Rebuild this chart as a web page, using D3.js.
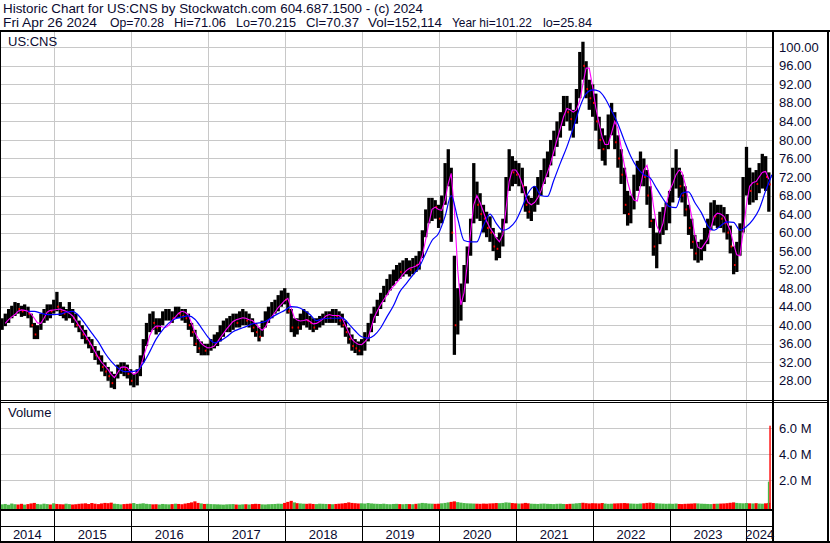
<!DOCTYPE html>
<html><head><meta charset="utf-8">
<script src="https://cdn.jsdelivr.net/npm/d3@7"></script>
<style>html,body{margin:0;padding:0;background:#fff;}svg{display:block;font-family:"Liberation Sans",Arial,sans-serif;}</style>
</head><body><svg id="c" width="830" height="543"></svg>
<script>
// ---- data (semi-monthly periods starting 2014-05-01) ----
const priceLow = [
 39.0,39.8,40.5,41.5,42.0,42.5,41.8,42.0,41.5,39.5,37.0,37.0,39.0,40.5,41.0,41.5,
 42.5,43.0,42.0,41.5,41.0,41.5,40.5,39.5,38.5,37.0,36.0,35.0,34.0,32.5,31.5,30.0,29.0,28.0,26.5,26.2,28.5,29.5,29.0,28.5,
 27.0,26.6,27.0,29.0,32.0,35.5,38.5,39.0,38.0,38.5,40.0,41.0,41.0,40.5,41.5,41.5,41.0,40.5,39.0,37.5,35.5,34.0,33.5,33.5,
 33.5,34.5,35.0,35.5,36.5,37.5,38.5,38.5,39.0,39.5,39.5,40.0,40.0,39.5,38.5,37.5,36.5,37.5,39.5,40.5,41.5,42.5,43.0,44.0,
 44.5,42.5,38.5,37.5,38.0,39.0,40.0,39.5,39.0,38.5,39.0,39.5,40.0,40.5,40.5,40.5,40.5,40.0,39.5,37.5,36.0,34.5,34.0,33.5,
 33.5,34.5,36.5,38.5,40.5,42.0,43.5,45.0,46.5,47.5,48.5,49.5,50.0,50.5,51.0,50.5,51.0,51.5,52.0,54.5,59.0,62.0,62.5,63.0,
 61.0,62.0,66.0,70.0,58.0,33.6,38.0,41.0,45.0,49.0,55.0,62.0,63.0,62.5,60.0,59.0,58.0,56.0,54.0,54.5,57.0,62.0,69.0,70.0,
 70.5,70.0,68.5,64.5,63.0,62.5,64.5,66.0,68.0,70.5,72.0,74.5,76.5,78.5,80.5,83.0,84.0,82.0,80.5,83.5,89.0,93.0,89.0,86.5,
 85.0,82.0,78.0,75.5,74.5,78.0,81.0,78.0,74.0,70.5,64.0,61.5,62.0,65.0,69.0,70.0,70.0,66.0,61.0,55.0,52.3,57.5,59.5,60.5,
 62.0,66.5,69.5,67.5,66.5,63.5,59.5,56.5,54.0,53.5,54.0,56.0,57.5,60.5,61.5,61.0,61.0,60.0,58.5,55.5,51.0,51.5,55.0,60.0,
 68.0,66.0,66.5,67.0,68.5,69.5,69.0,64.5];
const priceHigh = [
 41.5,42.5,43.5,44.2,45.0,44.8,44.2,44.5,44.0,42.5,40.5,40.0,42.5,43.5,44.5,44.5,
 45.5,47.2,45.0,44.0,43.5,45.0,43.5,42.5,41.0,40.0,39.0,37.5,37.0,35.5,34.5,33.5,32.0,31.0,30.0,29.5,31.5,32.0,32.0,31.5,
 30.5,29.5,30.5,33.5,37.0,40.5,42.5,43.0,41.5,41.5,43.0,43.5,43.5,43.0,44.0,44.0,43.5,43.5,42.5,40.5,39.0,37.0,36.5,36.0,
 36.0,37.0,38.0,38.5,40.0,41.0,41.5,42.0,42.5,42.5,43.0,43.5,43.0,42.5,41.5,40.5,39.5,41.0,43.0,44.0,45.0,45.5,46.5,47.5,
 48.0,47.0,43.5,41.5,41.5,42.5,43.5,43.0,42.0,41.5,41.5,42.0,42.5,43.0,43.0,43.5,43.5,43.0,42.5,41.0,39.5,38.0,37.0,36.5,
 37.0,38.5,40.5,42.5,44.0,45.5,47.0,48.5,50.0,51.0,52.0,53.0,53.5,54.0,54.5,54.0,54.5,55.0,56.0,60.5,65.0,67.5,67.5,67.0,
 66.0,68.0,75.0,78.0,74.0,55.0,48.0,49.0,53.0,57.0,63.0,75.0,71.0,68.5,66.0,64.5,63.5,61.0,59.0,60.0,63.0,72.0,78.0,76.5,
 75.5,75.0,74.0,70.0,68.0,67.5,70.0,72.0,73.5,76.0,77.5,80.0,82.0,84.0,86.0,89.5,89.5,88.0,86.5,91.0,99.0,101.2,97.0,93.0,
 92.0,90.0,85.0,82.5,81.0,85.5,88.0,86.0,81.0,78.0,74.0,69.0,68.0,72.5,75.5,77.5,76.0,73.5,70.0,63.0,60.0,64.5,65.5,66.5,
 69.0,74.0,78.0,74.0,72.5,70.0,66.0,63.0,59.5,58.0,58.5,61.0,63.0,66.5,67.0,66.0,66.0,65.5,64.0,61.5,57.0,58.0,62.0,72.0,
 78.5,74.0,73.0,73.5,75.0,77.0,76.5,73.0];
const priceClose = [
 40.5,41.5,42.8,43.0,44.0,43.5,43.0,43.5,42.5,40.0,38.0,39.0,41.8,42.0,43.5,43.0,
 44.5,44.0,43.0,42.5,42.5,43.0,41.5,40.0,39.5,38.0,37.0,36.0,35.0,33.5,33.0,31.0,30.0,29.0,27.5,28.5,30.5,31.0,30.5,29.5,
 28.0,28.5,29.5,32.5,36.0,39.5,41.5,40.5,39.5,40.5,42.0,42.5,42.5,41.5,43.0,42.5,42.0,41.5,40.0,38.5,36.0,35.0,35.5,34.5,
 35.0,36.0,37.0,37.5,39.0,40.0,40.0,41.0,41.5,40.5,42.0,42.5,41.0,41.5,39.5,38.5,37.5,40.0,42.0,43.0,44.0,44.5,45.5,46.5,
 45.5,43.0,39.5,40.5,39.5,41.5,42.5,41.0,40.5,39.5,40.0,41.0,41.5,42.0,41.5,42.5,42.0,41.0,40.0,38.5,37.0,35.5,35.0,34.5,
 36.5,37.5,39.5,41.5,43.5,44.5,46.0,47.5,48.5,50.0,51.0,52.0,51.5,52.5,53.0,52.0,53.5,53.0,55.0,59.5,63.5,65.0,66.0,65.5,
 63.0,67.0,73.0,74.0,60.0,40.0,44.0,47.0,51.0,56.0,61.5,70.0,66.0,64.0,63.0,61.0,60.0,57.0,56.5,58.5,62.0,70.5,74.0,73.0,
 72.5,73.0,70.0,66.0,64.5,66.5,68.5,70.5,72.0,74.0,76.5,78.5,80.5,82.5,85.0,87.0,86.0,84.5,85.0,90.0,97.0,96.0,91.0,89.0,
 88.0,84.0,80.0,78.0,79.0,84.0,84.5,79.5,76.0,72.5,66.0,64.0,66.5,71.5,73.0,74.0,72.0,68.0,62.5,57.0,58.0,62.5,63.5,65.0,
 67.5,72.0,73.5,70.0,68.0,65.0,61.0,58.0,55.5,56.0,57.5,60.0,61.5,64.5,63.5,64.0,63.0,62.0,60.0,57.0,53.0,57.0,60.5,70.0,
 74.0,69.0,71.0,70.5,73.0,74.5,72.0,70.4];
// short moving average (magenta), same periods
const maShort = [
 null,40.4,41.2,41.8,42.3,43.0,43.3,43.2,43.0,42.4,41.5,40.5,40.4,41.5,42.8,43.2,
 43.3,43.4,43.5,43.2,43.0,42.6,42.0,41.0,39.9,38.9,37.8,36.7,35.6,34.3,33.0,32.0,31.2,30.4,29.4,28.7,29.8,30.9,31.0,30.8,
 30.0,29.4,29.8,30.8,33.0,35.2,37.8,39.2,39.8,39.8,39.6,39.5,40.0,41.0,41.8,42.6,43.0,42.8,42.2,40.5,38.5,37.2,36.1,35.5,
 35.1,35.2,35.5,36.4,37.3,38.2,39.2,40.0,40.8,41.2,41.4,41.6,41.5,41.2,41.0,40.3,39.5,38.9,39.5,41.0,41.8,42.8,43.8,44.5,
 45.3,45.8,43.7,41.6,41.1,40.9,41.0,41.2,40.8,40.3,40.4,40.8,41.3,42.0,42.3,42.1,42.1,42.1,41.5,40.0,38.4,37.0,36.3,35.9,
 35.8,36.4,37.3,39.5,41.6,43.0,44.4,45.5,46.5,47.6,48.4,49.2,50.0,51.0,51.8,52.3,52.5,52.8,53.2,55.0,58.5,62.0,65.0,65.5,
 65.0,64.8,67.0,70.5,72.8,65.0,52.0,44.4,47.0,53.0,60.0,66.0,68.0,66.5,64.5,62.5,61.0,60.0,58.8,58.0,59.5,65.0,71.0,73.5,
 73.5,72.5,70.5,68.0,66.5,66.0,66.5,67.5,69.0,71.0,73.0,75.0,77.5,80.0,82.5,85.0,86.8,86.5,86.0,86.5,88.5,92.0,95.5,95.5,
 91.5,87.0,83.5,80.5,79.0,79.0,81.5,84.0,82.5,78.5,74.5,71.0,68.5,67.0,66.8,70.0,73.5,74.5,71.5,66.0,61.5,60.0,62.0,66.0,
 69.0,70.5,72.5,73.5,73.0,70.5,67.0,63.5,59.5,56.8,56.5,57.5,58.5,61.0,63.5,64.2,64.0,63.5,62.0,60.5,57.5,55.2,55.0,60.0,
 66.0,70.0,70.8,71.0,72.0,73.0,73.2,71.5];
// long moving average (blue), monthly from 2014-05-01
const maLong = [
 null,null,null,null,43.0,43.0,42.6,42.3,42.3,42.4,42.8,43.0,
 42.0,40.2,38.3,36.4,34.0,32.2,30.8,30.0,30.0,30.2,31.8,34.3,
 37.0,39.0,40.5,41.4,41.8,42.0,41.3,39.5,37.5,36.2,36.6,37.5,
 38.6,39.2,39.7,40.3,40.5,40.8,41.7,42.5,43.2,44.0,43.9,43.3,
 42.3,41.0,41.4,41.5,41.5,41.6,40.3,38.8,37.5,37.2,37.8,39.4,
 41.8,44.2,47.2,49.0,50.8,52.5,55.5,58.3,59.8,63.5,68.0,63.0,
 58.3,58.0,58.0,61.5,64.0,62.0,60.5,61.0,62.5,65.5,68.5,70.0,
 68.0,67.8,71.3,75.0,78.5,82.5,87.0,90.0,90.8,90.5,89.0,86.3,
 83.5,79.8,76.5,74.0,72.5,71.8,69.5,67.3,65.6,65.4,68.5,68.8,
 66.5,64.3,61.5,60.5,61.5,62.3,62.2,60.5,61.3,62.8,65.0,69.0,
 72.5];
// volume in thousands, semi-monthly
const volumeK = [
 150,180,120,210,160,140,190,130,170,220,260,180,150,200,170,140,
 230,180,160,150,200,170,140,160,190,210,230,180,250,200,170,220,260,240,280,200,180,150,170,190,
 210,250,180,200,230,190,170,150,160,140,180,160,150,170,200,180,160,210,250,300,380,260,220,180,
 190,170,160,150,140,130,150,160,170,140,130,150,160,140,170,190,180,150,140,160,170,180,200,190,
 260,340,420,300,240,220,200,190,210,180,170,200,190,180,170,160,180,200,220,250,300,260,240,220,
 230,210,250,220,200,190,180,200,170,160,180,190,170,160,180,170,160,190,220,260,240,210,200,190,
 200,230,260,300,340,380,320,280,250,230,220,210,200,190,210,200,220,230,250,240,260,300,280,250,
 230,210,220,260,230,200,190,180,200,210,190,180,170,190,200,180,170,190,200,230,250,270,240,220,
 240,230,220,250,210,190,200,220,230,240,250,230,210,200,190,210,230,260,280,250,230,210,200,190,
 200,190,210,180,170,190,200,210,230,220,200,190,180,170,190,200,210,220,240,270,300,260,240,230,
 250,230,220,240,210,200,230,260];
// last sessions with heavy volume
const lateDays = ["2024-04-15","2024-04-22"];
const lateVolK = [1900, 6200];
const lateUp = [true, false];

const yearLabels = ["2014","2015","2016","2017","2018","2019","2020","2021","2022","2023","2024"];
const priceTicks = [28,32,36,40,44,48,52,56,60,64,68,72,76,80,84,88,92,96,100];
const volTicksM = [2,4,6];
const headerLine1 = "Historic Chart for US:CNS by Stockwatch.com 604.687.1500 - (c) 2024";
const headerLine2 = ["Fri Apr 26 2024","Op=70.28","Hi=71.06","Lo=70.215","Cl=70.37","Vol=152,114","Year hi=101.22","lo=25.84"];
const symbol = "US:CNS";

// ---- layout ----
const W = 830, H = 543;
const L = 1, R = 773;            // plot x-range
const pTop = 32, pBot = 400;     // price panel
const vTop = 403, vBot = 509;    // volume panel
const TXT = "#0a0a30";

const svg = d3.select("#c");
const n = Math.min(priceLow.length, priceHigh.length, priceClose.length);
const periodDate = i => new Date(Date.UTC(2014, 4 + Math.floor(i/2), (i%2) ? 16 : 1));
const monthDate = m => new Date(Date.UTC(2014, 4 + m, 1));

const x = d3.scaleUtc().domain([new Date(Date.UTC(2014,3,26)), new Date(Date.UTC(2024,4,6))]).range([L, R]);
const y = d3.scaleLinear().domain([28, 100]).range([380.8, 47.3]);
const vy = d3.scaleLinear().domain([0, 6]).range([506.3, 428.3]);

svg.append("rect").attr("width", W).attr("height", H).attr("fill", "#fff");

const defs = svg.append("defs");
defs.append("clipPath").attr("id","cp").append("rect").attr("x",L).attr("y",pTop).attr("width",R-L-1).attr("height",pBot-pTop);
defs.append("clipPath").attr("id","cv").append("rect").attr("x",L).attr("y",vTop).attr("width",R-L-1).attr("height",vBot-vTop);

const yearStarts = yearLabels.slice(1).map(s => new Date(Date.UTC(+s,0,1)));

// gridlines
const grid = svg.append("g").attr("stroke","#c8c8c8").attr("stroke-width",1).attr("shape-rendering","crispEdges");
grid.selectAll(".hp").data(priceTicks).join("line")
  .attr("x1",L).attr("x2",R-1).attr("y1",d=>Math.round(y(d))+0.5).attr("y2",d=>Math.round(y(d))+0.5);
grid.selectAll(".vp").data(yearStarts).join("line").attr("class","vp")
  .attr("x1",d=>Math.round(x(d))+0.5).attr("x2",d=>Math.round(x(d))+0.5).attr("y1",pTop).attr("y2",pBot);
grid.selectAll(".hv").data(volTicksM).join("line").attr("class","hv")
  .attr("x1",L).attr("x2",R-1).attr("y1",d=>Math.round(vy(d))+0.5).attr("y2",d=>Math.round(vy(d))+0.5);
grid.selectAll(".vv").data(yearStarts).join("line").attr("class","vv")
  .attr("x1",d=>Math.round(x(d))+0.5).attr("x2",d=>Math.round(x(d))+0.5).attr("y1",vTop).attr("y2",vBot);

// price bars
const idx = d3.range(n);
const gp = svg.append("g").attr("clip-path","url(#cp)");
gp.selectAll(".bar").data(idx).join("rect").attr("class","bar")
  .attr("x", i => x(periodDate(i)) - 1.6).attr("width", 3.3)
  .attr("y", i => y(priceHigh[i])).attr("height", i => Math.max(1, y(priceLow[i]) - y(priceHigh[i])))
  .attr("fill","#000");
gp.selectAll(".tick").data(idx.filter(i => i > 0 && priceClose[i] < priceClose[i-1])).join("rect").attr("class","tick")
  .attr("x", i => x(periodDate(i)) + 0.4).attr("width", 1.6)
  .attr("y", i => y(priceClose[i]) - 1).attr("height", 2).attr("fill","#ff0000");

const lineShort = d3.line().defined(d => d != null).x((d,i) => x(periodDate(i))).y(d => y(d));
gp.append("path").datum(maShort).attr("d", lineShort).attr("fill","none").attr("stroke","#ff00ff").attr("stroke-width",1.1);
const lineLong = d3.line().defined(d => d != null).x((d,i) => x(monthDate(i))).y(d => y(d)).curve(d3.curveMonotoneX);
gp.append("path").datum(maLong).attr("d", lineLong).attr("fill","none").attr("stroke","#0000ff").attr("stroke-width",1.2);

// volume bars
const gv = svg.append("g").attr("clip-path","url(#cv)");
gv.selectAll(".vb").data(idx.slice(0, volumeK.length)).join("rect").attr("class","vb")
  .attr("x", i => x(periodDate(i)) - 1.6).attr("width", 3.2)
  .attr("y", i => vy(volumeK[i]/1000)).attr("height", i => vBot - vy(volumeK[i]/1000))
  .attr("fill", i => (i === 0 || priceClose[i] >= priceClose[i-1]) ? "#4cb848" : "#ff0000");
gv.selectAll(".lv").data(d3.range(lateDays.length)).join("rect").attr("class","lv")
  .attr("x", i => x(new Date(lateDays[i] + "T00:00:00Z")) - 0.7).attr("width", 1.4)
  .attr("y", i => vy(lateVolK[i]/1000)).attr("height", i => vBot - vy(lateVolK[i]/1000))
  .attr("fill", i => lateUp[i] ? "#4cb848" : "#ff0000");

// frame lines
const fr = svg.append("g").attr("fill","#000").attr("shape-rendering","crispEdges");
fr.append("rect").attr("x",0).attr("y",30).attr("width",W).attr("height",2);       // top
fr.append("rect").attr("x",0).attr("y",30).attr("width",1).attr("height",H-30);    // left
fr.append("rect").attr("x",827).attr("y",30).attr("width",2).attr("height",H-30);  // right
fr.append("rect").attr("x",R-1).attr("y",30).attr("width",2).attr("height",H-30);  // axis
fr.append("rect").attr("x",0).attr("y",400).attr("width",829).attr("height",1);
fr.append("rect").attr("x",0).attr("y",402).attr("width",829).attr("height",1);
fr.append("rect").attr("x",0).attr("y",509).attr("width",R+1).attr("height",2);
fr.append("rect").attr("x",0).attr("y",526).attr("width",R+1).attr("height",1);
fr.append("rect").attr("x",0).attr("y",541).attr("width",W).attr("height",2);
fr.selectAll(".ys").data(yearStarts).join("rect").attr("class","ys")
  .attr("x", d => Math.round(x(d))).attr("y", 511).attr("width", 1).attr("height", 30);

// texts
const t = svg.append("g").attr("fill", TXT).attr("font-size", 13);
t.append("text").attr("x",3).attr("y",13).attr("textLength",420).attr("lengthAdjust","spacingAndGlyphs").text(headerLine1);
const h2x = [3,110,174,236,306,368,452,543];
const h2w = [94,54,52,60,53,74,80,49];
headerLine2.forEach((s,i) => t.append("text").attr("x",h2x[i]).attr("y",27).attr("textLength",h2w[i]).attr("lengthAdjust","spacingAndGlyphs").text(s));
t.append("text").attr("x",8).attr("y",46).text(symbol);
t.append("text").attr("x",8).attr("y",417).text("Volume");
t.selectAll(".pl").data(priceTicks).join("text").attr("class","pl")
  .attr("x",779).attr("y",d=>y(d)+4.6).text(d=>d.toFixed(2));
t.selectAll(".vl").data(volTicksM).join("text").attr("class","vl")
  .attr("x",779).attr("y",d=>vy(d)+4.6).text(d=>d.toFixed(1)+" M");
const bounds = [x.domain()[0], ...yearStarts, x.domain()[1]];
t.selectAll(".yl").data(yearLabels).join("text").attr("class","yl")
  .attr("x",(d,i)=> (Math.max(L, x(bounds[i])) + Math.min(R, x(bounds[i+1])))/2)
  .attr("y",538.5).attr("text-anchor","middle").text(d=>d);
</script></body></html>
